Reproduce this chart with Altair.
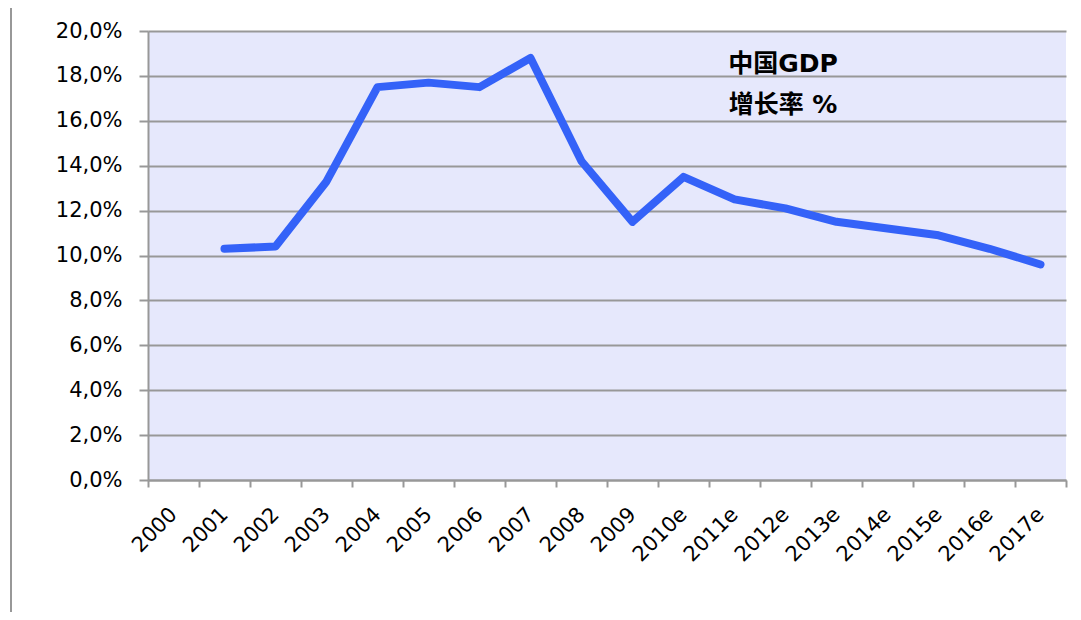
import altair as alt
import pandas as pd

years = ["2000", "2001", "2002", "2003", "2004", "2005", "2006", "2007", "2008",
         "2009", "2010e", "2011e", "2012e", "2013e", "2014e", "2015e", "2016e", "2017e"]
growth = [None, 10.3, 10.4, 13.3, 17.5, 17.7, 17.5, 18.8, 14.2,
          11.5, 13.5, 12.5, 12.1, 11.5, 11.2, 10.9, 10.3, 9.6]
title_lines = ["中国GDP", "增长率 %"]

df = pd.DataFrame({"year": years, "growth": growth})

W, H = 918, 449
GREY = "#989898"
FONT = "DejaVu Sans"

x_enc = alt.X("year:N", sort=None,
              scale=alt.Scale(type="band", domain=years, paddingInner=0, paddingOuter=0),
              axis=alt.Axis(title=None, labelAngle=-45, labelAlign="right", labelBaseline="middle",
                            labelFontSize=21, labelFont=FONT, labelColor="#000000",
                            labelPadding=24, tickSize=7, tickColor=GREY, tickWidth=2,
                            domainColor=GREY, domainWidth=2, tickBand="extent", grid=False))
y_enc = alt.Y("growth:Q",
              scale=alt.Scale(domain=[0, 20], nice=False, zero=True),
              axis=alt.Axis(title=None, values=list(range(0, 21, 2)),
                            labelExpr="replace(format(datum.value, '.1f'), '.', ',') + '%'",
                            labelFontSize=21, labelFont=FONT, labelColor="#000000",
                            labelPadding=17, tickSize=9, tickColor=GREY, tickWidth=2,
                            domainColor=GREY, domainWidth=2,
                            grid=True, gridColor=GREY, gridWidth=2))

line = alt.Chart(df).mark_line(color="#3462f8", strokeWidth=8, strokeCap="round",
                               strokeJoin="round").encode(x=x_enc, y=y_enc)

tdf = pd.DataFrame({"t": [title_lines]})
title = alt.Chart(tdf).mark_text(font=f"{FONT}, Noto Sans CJK SC", fontSize=25, fontWeight="bold",
                                 color="#000000", align="center", baseline="middle",
                                 lineHeight=41).encode(
    text="t", x=alt.value(635), y=alt.value(33))

border = alt.Chart(pd.DataFrame({"a": [0]})).mark_rect(
    fill=None, stroke=GREY, strokeWidth=2).encode(
    x=alt.value(-137), x2=alt.value(1100), y=alt.value(-26), y2=alt.value(700))

chart = alt.layer(border, line, title).properties(
    width=W, height=H,
    autosize=alt.AutoSizeParams(type="none"),
    padding={"left": 140, "top": 23, "right": 7, "bottom": 132},
    background="#ffffff",
).configure_view(fill="#e6e8fc", stroke=None)

chart.save("out.html", embed_options={"renderer": "svg", "actions": False})
